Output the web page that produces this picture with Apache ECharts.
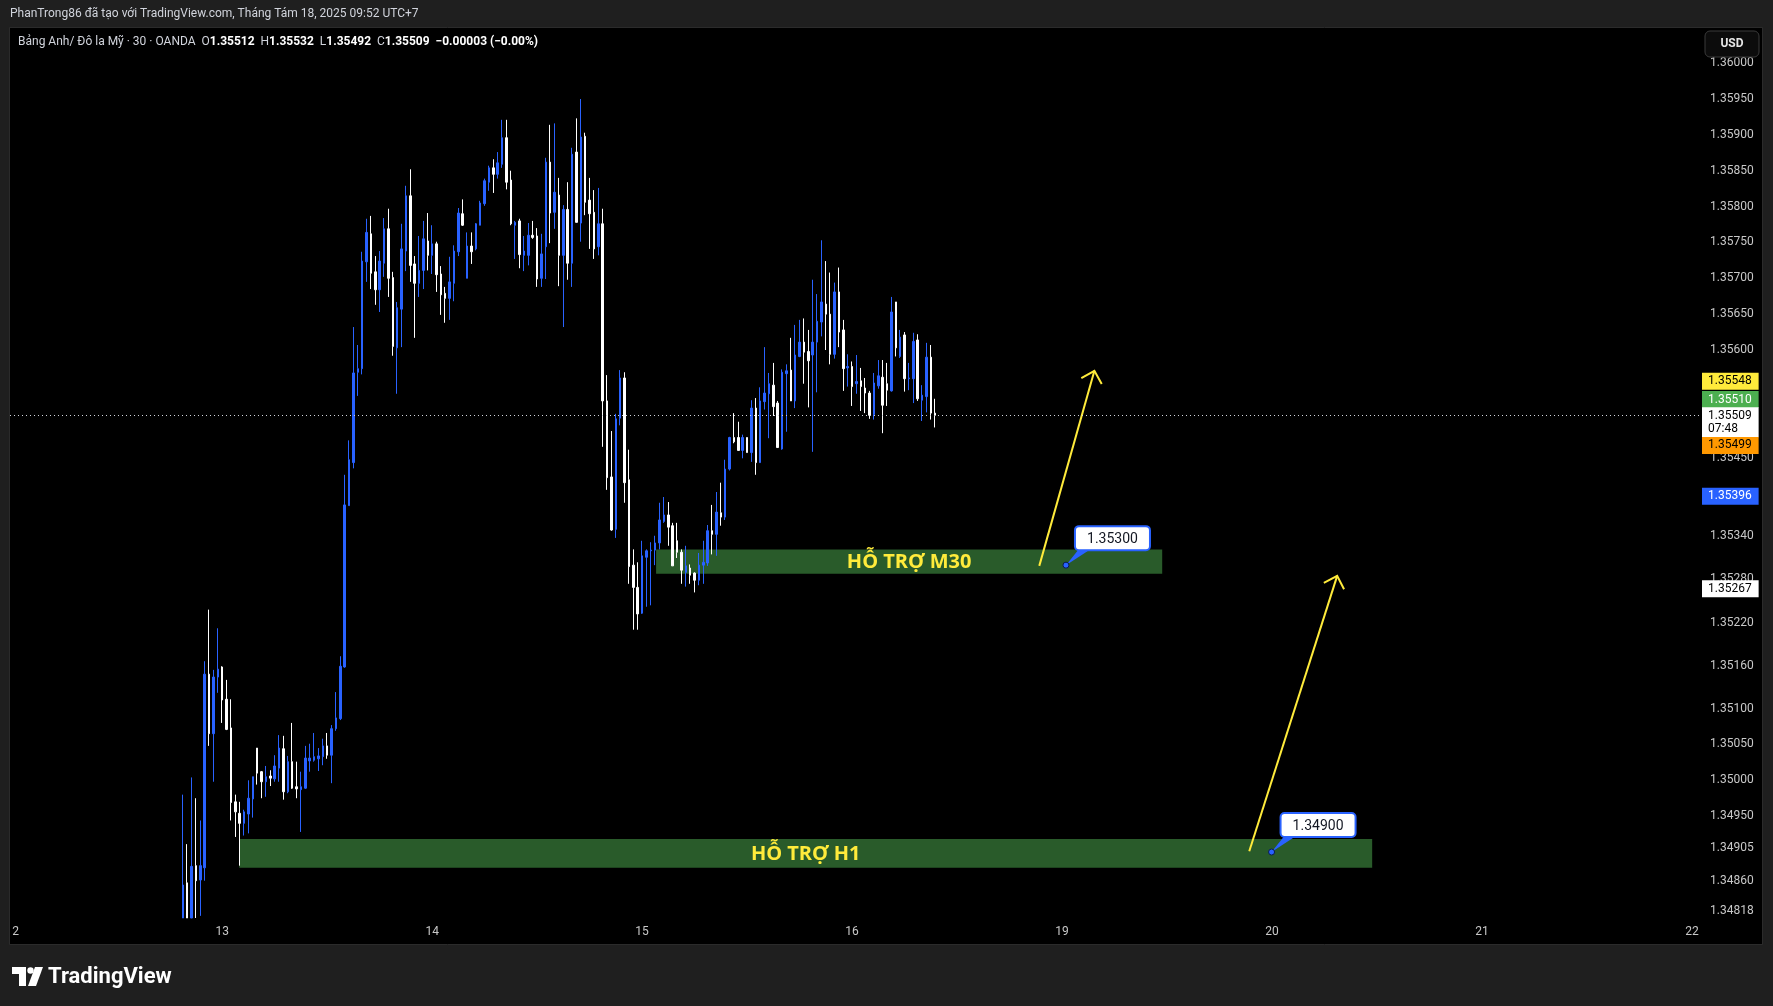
<!DOCTYPE html>
<html><head><meta charset="utf-8">
<script src="https://cdn.jsdelivr.net/npm/echarts@6/dist/echarts.min.js"></script>
<style>html,body{margin:0;padding:0;background:#000;}#c{width:1773px;height:1006px;}</style>
</head><body><div id="c"></div>
<script>
// ---- DATA (30-minute candles, GBP/USD, OANDA) ----
const firstIndex = 39; // slot index of the first candle on the time axis
const opens = [
1.34808,1.34857,1.34808,1.34881,1.34861,1.34878,1.35148,1.35065,1.35144,1.35158,
1.35113,1.35073,1.34970,1.34954,1.34940,1.34953,1.34974,1.35045,1.35012,1.34998,
1.35006,1.35002,1.35017,1.35044,1.34984,1.35026,1.34991,1.34987,1.34989,1.35027,
1.35028,1.35030,1.35033,1.35048,1.35035,1.35072,1.35086,1.35158,1.35383,1.35443,
1.35569,1.35574,1.35723,1.35762,1.35709,1.35684,1.35721,1.35769,1.35701,1.35603,
1.35657,1.35738,1.35815,1.35720,1.35693,1.35711,1.35752,1.35732,1.35748,1.35706,
1.35679,1.35672,1.35693,1.35737,1.35790,1.35700,1.35745,1.35741,1.35774,1.35804,
1.35834,1.35854,1.35845,1.35859,1.35896,1.35837,1.35774,1.35780,1.35732,1.35732,
1.35760,1.35759,1.35700,1.35744,1.35862,1.35792,1.35816,1.35732,1.35796,1.35721,
1.35876,1.35777,1.35898,1.35809,1.35792,1.35744,1.35776,1.35529,1.35423,1.35350,
1.35505,1.35561,1.35419,1.35300,1.35269,1.35233,1.35311,1.35320,1.35321,1.35331,
1.35361,1.35370,1.35355,1.35334,1.35318,1.35290,1.35296,1.35289,1.35279,1.35300,
1.35303,1.35348,1.35343,1.35373,1.35367,1.35434,1.35478,1.35478,1.35460,1.35478,
1.35457,1.35519,1.35443,1.35528,1.35539,1.35551,1.35526,1.35462,1.35567,1.35572,
1.35529,1.35591,1.35611,1.35598,1.35593,1.35611,1.35639,1.35664,1.35650,1.35594,
1.35681,1.35628,1.35575,1.35577,1.35553,1.35557,1.35547,1.35540,1.35510,1.35550,
1.35562,1.35553,1.35543,1.35667,1.35591,1.35621,1.35560,1.35560,1.35614,1.35530,
1.35535,1.35590,1.35512];
const highs = [
1.34980,1.34911,1.35004,1.34975,1.34944,1.35166,1.35238,1.35154,1.35212,1.35159,
1.35140,1.35113,1.34980,1.34970,1.34959,1.35000,1.35005,1.35045,1.35013,1.35020,
1.35014,1.35035,1.35063,1.35062,1.35034,1.35080,1.35026,1.35012,1.35048,1.35051,
1.35066,1.35045,1.35058,1.35066,1.35077,1.35123,1.35173,1.35426,1.35474,1.35632,
1.35607,1.35737,1.35783,1.35787,1.35731,1.35738,1.35784,1.35797,1.35709,1.35667,
1.35776,1.35829,1.35852,1.35731,1.35759,1.35780,1.35791,1.35774,1.35751,1.35717,
1.35688,1.35730,1.35746,1.35798,1.35810,1.35764,1.35764,1.35777,1.35808,1.35839,
1.35857,1.35866,1.35876,1.35921,1.35921,1.35850,1.35780,1.35783,1.35759,1.35777,
1.35780,1.35770,1.35762,1.35868,1.35914,1.35916,1.35840,1.35802,1.35834,1.35882,
1.35923,1.35950,1.35903,1.35840,1.35823,1.35826,1.35797,1.35565,1.35487,1.35511,
1.35572,1.35569,1.35461,1.35322,1.35304,1.35334,1.35322,1.35332,1.35341,1.35387,
1.35395,1.35388,1.35359,1.35359,1.35322,1.35327,1.35301,1.35290,1.35317,1.35334,
1.35356,1.35384,1.35402,1.35415,1.35447,1.35479,1.35512,1.35500,1.35482,1.35478,
1.35530,1.35533,1.35548,1.35604,1.35568,1.35582,1.35529,1.35573,1.35580,1.35617,
1.35635,1.35642,1.35644,1.35628,1.35698,1.35678,1.35753,1.35724,1.35708,1.35694,
1.35715,1.35642,1.35594,1.35584,1.35593,1.35575,1.35561,1.35543,1.35568,1.35586,
1.35586,1.35582,1.35674,1.35667,1.35628,1.35625,1.35582,1.35624,1.35622,1.35551,
1.35610,1.35607,1.35532];
const lows = [
1.34808,1.34808,1.34808,1.34808,1.34811,1.34860,1.35048,1.34998,1.35122,1.35080,
1.35070,1.34944,1.34921,1.34881,1.34923,1.34926,1.34948,1.34994,1.34975,1.34977,
1.34992,1.34998,1.34998,1.34973,1.34982,1.34988,1.34975,1.34928,1.34988,1.35012,
1.35026,1.35013,1.35021,1.35030,1.34996,1.35069,1.35084,1.35157,1.35383,1.35435,
1.35536,1.35566,1.35695,1.35685,1.35663,1.35653,1.35702,1.35674,1.35592,1.35539,
1.35604,1.35710,1.35695,1.35617,1.35674,1.35685,1.35711,1.35706,1.35681,1.35649,
1.35638,1.35642,1.35668,1.35731,1.35773,1.35700,1.35720,1.35739,1.35774,1.35801,
1.35822,1.35819,1.35839,1.35854,1.35824,1.35774,1.35727,1.35714,1.35710,1.35718,
1.35755,1.35688,1.35688,1.35699,1.35749,1.35769,1.35689,1.35632,1.35698,1.35688,
1.35778,1.35751,1.35788,1.35741,1.35727,1.35732,1.35465,1.35405,1.35348,1.35338,
1.35495,1.35387,1.35274,1.35210,1.35210,1.35232,1.35242,1.35244,1.35300,1.35322,
1.35359,1.35327,1.35299,1.35310,1.35274,1.35270,1.35274,1.35262,1.35272,1.35274,
1.35299,1.35315,1.35313,1.35355,1.35363,1.35432,1.35470,1.35460,1.35449,1.35457,
1.35444,1.35426,1.35443,1.35517,1.35477,1.35508,1.35464,1.35461,1.35486,1.35529,
1.35519,1.35590,1.35553,1.35520,1.35458,1.35541,1.35619,1.35600,1.35580,1.35588,
1.35604,1.35543,1.35549,1.35522,1.35539,1.35515,1.35512,1.35504,1.35503,1.35546,
1.35484,1.35522,1.35542,1.35591,1.35589,1.35542,1.35544,1.35526,1.35529,1.35501,
1.35513,1.35503,1.35492];
const closes = [
1.34854,1.34808,1.34880,1.34860,1.34881,1.35148,1.35065,1.35144,1.35155,1.35112,
1.35071,1.34969,1.34956,1.34940,1.34956,1.34975,1.35005,1.35010,1.34998,1.35005,
1.35003,1.35020,1.35045,1.34984,1.35026,1.34989,1.34988,1.34991,1.35031,1.35031,
1.35033,1.35034,1.35048,1.35035,1.35072,1.35087,1.35159,1.35384,1.35447,1.35568,
1.35574,1.35724,1.35764,1.35707,1.35684,1.35724,1.35769,1.35700,1.35605,1.35659,
1.35741,1.35815,1.35718,1.35693,1.35711,1.35755,1.35732,1.35748,1.35705,1.35677,
1.35672,1.35695,1.35738,1.35791,1.35774,1.35745,1.35737,1.35776,1.35805,1.35836,
1.35854,1.35845,1.35861,1.35896,1.35834,1.35776,1.35778,1.35733,1.35738,1.35760,
1.35757,1.35699,1.35734,1.35862,1.35791,1.35820,1.35732,1.35796,1.35721,1.35873,
1.35778,1.35897,1.35806,1.35790,1.35741,1.35776,1.35529,1.35422,1.35349,1.35504,
1.35561,1.35415,1.35298,1.35269,1.35232,1.35313,1.35320,1.35321,1.35331,1.35363,
1.35370,1.35353,1.35299,1.35318,1.35293,1.35299,1.35286,1.35279,1.35300,1.35304,
1.35348,1.35343,1.35374,1.35367,1.35434,1.35478,1.35472,1.35460,1.35478,1.35457,
1.35519,1.35443,1.35529,1.35540,1.35553,1.35521,1.35464,1.35569,1.35571,1.35529,
1.35593,1.35611,1.35597,1.35585,1.35611,1.35640,1.35667,1.35650,1.35594,1.35681,
1.35625,1.35574,1.35577,1.35549,1.35556,1.35549,1.35540,1.35509,1.35554,1.35564,
1.35523,1.35544,1.35653,1.35603,1.35618,1.35560,1.35561,1.35612,1.35532,1.35537,
1.35590,1.35512,1.35509];

// time axis (slot index of each day label)
const xTickIndex = [0, 48, 96, 144, 192, 240, 288, 336, 384];
const xTickLabels = ['12', '13', '14', '15', '16', '19', '20', '21', '22'];
// price axis labels
const yTickValues = [1.36000,1.35950,1.35900,1.35850,1.35800,1.35750,1.35700,1.35650,1.35600,
  1.35450,1.35340,1.35280,1.35220,1.35160,1.35100,1.35050,1.35000,1.34950,1.34905,1.34860,1.34818];

// price tags on the right scale
const priceTagValues = [1.35548, 1.35510, 1.35509, 1.35499, 1.35396, 1.35267];
const priceTagText = ['1.35548', '1.35510', '1.35509\n07:48', '1.35499', '1.35396', '1.35267'];
const priceTagBg = ['#ffeb3b', '#4caf50', '#ffffff', '#ff9800', '#2962ff', '#ffffff'];
const priceTagFg = ['#000000', '#ffffff', '#000000', '#000000', '#ffffff', '#000000'];
const priceTagShift = [-6, -15, 7, 23, 0, 0];
const priceTagLine = [false, false, true, false, false, false];

// support zones
const zoneNames = ['HỖ TRỢ M30', 'HỖ TRỢ H1'];
const zoneStart = [147.2, 51.9];
const zoneEnd = [262.9, 310.9];
const zoneTop = [1.35322, 1.34918];
const zoneBottom = [1.35288, 1.34878];

// arrows
const arrowFrom = [[234.8, 1.35299], [282.8, 1.34901]];
const arrowTo = [[247.4, 1.35571], [302.9, 1.35285]];

// price callouts
const calloutPoint = [[240.9, 1.35300], [287.9, 1.34900]];
const calloutText = ['1.35300', '1.34900'];

// ---- CHART ----
const FONT = 'Roboto, "Noto Sans", sans-serif';
const frameColor = '#1f1f1f';
const last = opens.length - 1;
const candleData = opens.map((o, i) => [firstIndex + i, o, closes[i], lows[i], highs[i]]);

const chart = echarts.init(document.getElementById('c'), null, {renderer: 'canvas', width: 1773, height: 1006});

const option = {
  animation: false,
  backgroundColor: '#000000',
  grid: {left: 10, right: 71, top: 28, bottom: 88, containLabel: false, outerBoundsMode: 'none'},
  xAxis: {
    type: 'value', min: -0.5, max: 386.3,
    axisLine: {show: false}, axisTick: {show: false}, splitLine: {show: false},
    axisLabel: {
      customValues: xTickIndex,
      formatter: v => xTickLabels[xTickIndex.indexOf(v)],
      color: '#c8c8c8', fontSize: 12, fontFamily: FONT, margin: 8
    }
  },
  yAxis: {
    type: 'value', position: 'right', min: 1.34808, max: 1.36049, scale: true,
    axisLine: {show: false}, axisTick: {show: false}, splitLine: {show: false},
    axisLabel: {
      customValues: yTickValues,
      formatter: v => v.toFixed(5),
      color: '#c8c8c8', fontSize: 12, fontFamily: FONT, margin: 8
    }
  },
  series: [
    {
      type: 'custom', z: 1, clip: false, silent: true,
      data: zoneNames.map((n, i) => [zoneStart[i], zoneTop[i], zoneEnd[i], zoneBottom[i]]),
      encode: {x: [0, 2], y: [1, 3]},
      renderItem: function (params, api) {
        const p1 = api.coord([api.value(0), api.value(1)]);
        const p2 = api.coord([api.value(2), api.value(3)]);
        return {type: 'group', children: [
          {type: 'rect', shape: {x: p1[0], y: p1[1], width: p2[0] - p1[0], height: p2[1] - p1[1]}, style: {fill: '#295b2a'}},
          {type: 'text', x: (p1[0] + p2[0]) / 2, y: (p1[1] + p2[1]) / 2 + 1,
           style: {text: zoneNames[params.dataIndex], fill: '#ffeb3b', font: 'bold 20px "Open Sans", sans-serif', align: 'center', verticalAlign: 'middle'}}
        ]};
      }
    },
    {
      type: 'candlestick', z: 3, clip: true,
      data: candleData,
      encode: {x: 0, y: [1, 2, 3, 4]},
      barWidth: 2,
      itemStyle: {color: '#2962ff', color0: '#ffffff', borderColor: '#2962ff', borderColor0: '#ffffff', borderColorDoji: '#ffffff', borderWidth: 1}
    },
    {
      type: 'custom', z: 5, clip: false, silent: true,
      data: arrowFrom.map((f, i) => [f[0], f[1], arrowTo[i][0], arrowTo[i][1]]),
      encode: {x: [0, 2], y: [1, 3]},
      renderItem: function (params, api) {
        const a = api.coord([api.value(0), api.value(1)]);
        const b = api.coord([api.value(2), api.value(3)]);
        const dx = a[0] - b[0], dy = a[1] - b[1];
        const L = Math.hypot(dx, dy), ux = dx / L, uy = dy / L;
        const len = 15, c = Math.SQRT1_2, s = Math.SQRT1_2;
        const l1 = [b[0] + len * (ux * c - uy * s), b[1] + len * (ux * s + uy * c)];
        const l2 = [b[0] + len * (ux * c + uy * s), b[1] + len * (-ux * s + uy * c)];
        return {type: 'group', children: [
          {type: 'line', shape: {x1: a[0], y1: a[1], x2: b[0], y2: b[1]}, style: {stroke: '#ffeb3b', lineWidth: 2}},
          {type: 'polyline', shape: {points: [l1, b, l2]}, style: {stroke: '#ffeb3b', lineWidth: 2, fill: null}}
        ]};
      }
    },
    {
      type: 'custom', z: 6, clip: false, silent: true,
      data: calloutPoint.map(p => [p[0], p[1]]),
      encode: {x: 0, y: 1},
      renderItem: function (params, api) {
        const p = api.coord([api.value(0), api.value(1)]);
        const bw = 75, bh = 24;
        const bx = p[0] + 9, by = p[1] - 15 - bh;
        return {type: 'group', children: [
          {type: 'polygon', shape: {points: [[p[0], p[1]], [bx + 3, by + bh], [bx + 14, by + bh]]}, style: {fill: '#2962ff'}},
          {type: 'rect', shape: {x: bx, y: by, width: bw, height: bh, r: 4}, style: {fill: '#ffffff', stroke: '#2962ff', lineWidth: 2}},
          {type: 'text', x: bx + bw / 2, y: by + bh / 2 + 1, style: {text: calloutText[params.dataIndex], fill: '#131722', font: '14px ' + FONT, align: 'center', verticalAlign: 'middle'}},
          {type: 'circle', shape: {cx: p[0], cy: p[1], r: 3}, style: {fill: '#2962ff', stroke: '#0b1b4d', lineWidth: 1}}
        ]};
      }
    },
    {
      // price tags on the right scale (+ dotted current-price line)
      type: 'custom', z: 7, clip: false, silent: true,
      data: priceTagValues.map(v => [0, v]),
      encode: {x: 0, y: 1},
      renderItem: function (params, api) {
        const i = params.dataIndex;
        const cs = params.coordSys;
        const y = api.coord([api.value(0), api.value(1)])[1];
        const children = [];
        if (priceTagLine[i]) {
          const yy = Math.round(y) + 0.5;
          children.push({type: 'line', shape: {x1: cs.x, y1: yy, x2: cs.x + cs.width, y2: yy},
            style: {stroke: '#d1d4dc', lineWidth: 1, lineDash: [1, 3]}});
        }
        children.push({type: 'text', x: cs.x + cs.width, y: y + priceTagShift[i],
          style: {text: priceTagText[i], fill: priceTagFg[i], backgroundColor: priceTagBg[i],
                  padding: [2, 7, 2, 6], font: '12px ' + FONT, lineHeight: 13, align: 'left', verticalAlign: 'middle'}});
        return {type: 'group', children: children};
      }
    }
  ],
  graphic: {elements: [
    {type: 'rect', z: 100, silent: true, shape: {x: 0, y: 0, width: 1773, height: 27}, style: {fill: frameColor}},
    {type: 'rect', z: 100, silent: true, shape: {x: 0, y: 945, width: 1773, height: 61}, style: {fill: frameColor}},
    {type: 'rect', z: 100, silent: true, shape: {x: 0, y: 0, width: 10, height: 1006}, style: {fill: frameColor}},
    {type: 'rect', z: 100, silent: true, shape: {x: 1762, y: 0, width: 11, height: 1006}, style: {fill: frameColor}},
    {type: 'rect', z: 100, silent: true, shape: {x: 9.5, y: 27.5, width: 1753, height: 917}, style: {fill: null, stroke: '#2b2b2b', lineWidth: 1}},
    {type: 'text', z: 101, x: 10, y: 14, style: {text: 'PhanTrong86 đã tạo với TradingView.com, Tháng Tám 18, 2025 09:52 UTC+7', fill: '#d1d4dc', font: '12px ' + FONT, verticalAlign: 'middle'}},
    {type: 'text', z: 101, x: 18, y: 42, style: {
      text: '{t|Bảng Anh/ Đô la Mỹ · 30 · OANDA}{k|  O}{v|' + opens[last].toFixed(5) + '}{k|  H}{v|' + highs[last].toFixed(5) +
            '}{k|  L}{v|' + lows[last].toFixed(5) + '}{k|  C}{v|' + closes[last].toFixed(5) + '}{v|  −0.00003 (−0.00%)}',
      verticalAlign: 'middle',
      rich: {
        t: {fill: '#d1d4dc', fontSize: 12, fontFamily: FONT},
        k: {fill: '#d1d4dc', fontSize: 12, fontFamily: FONT},
        v: {fill: '#ffffff', fontSize: 12, fontFamily: FONT, fontWeight: 'bold'}
      }}},
    {type: 'rect', z: 101, shape: {x: 1705, y: 31, width: 54, height: 26, r: 5}, style: {fill: '#0c0c0c', stroke: '#3a3a3a', lineWidth: 1}},
    {type: 'text', z: 102, x: 1732, y: 44, style: {text: 'USD', fill: '#e6e6e6', font: 'bold 12px ' + FONT, align: 'center', verticalAlign: 'middle'}},
    // TradingView logo
    {type: 'polygon', z: 101, shape: {points: [[12, 967], [26, 967], [26, 986], [19, 986], [19, 974], [12, 974]]}, style: {fill: '#ffffff'}},
    {type: 'circle', z: 101, shape: {cx: 30.5, cy: 970.5, r: 3.2}, style: {fill: '#ffffff'}},
    {type: 'polygon', z: 101, shape: {points: [[35, 967], [43, 967], [36, 986], [28, 986]]}, style: {fill: '#ffffff'}},
    {type: 'text', z: 101, x: 48, y: 977, style: {text: 'TradingView', fill: '#ffffff', font: 'bold 22px ' + FONT, verticalAlign: 'middle'}}
  ]}
};
chart.setOption(option);
</script>
</body></html>
